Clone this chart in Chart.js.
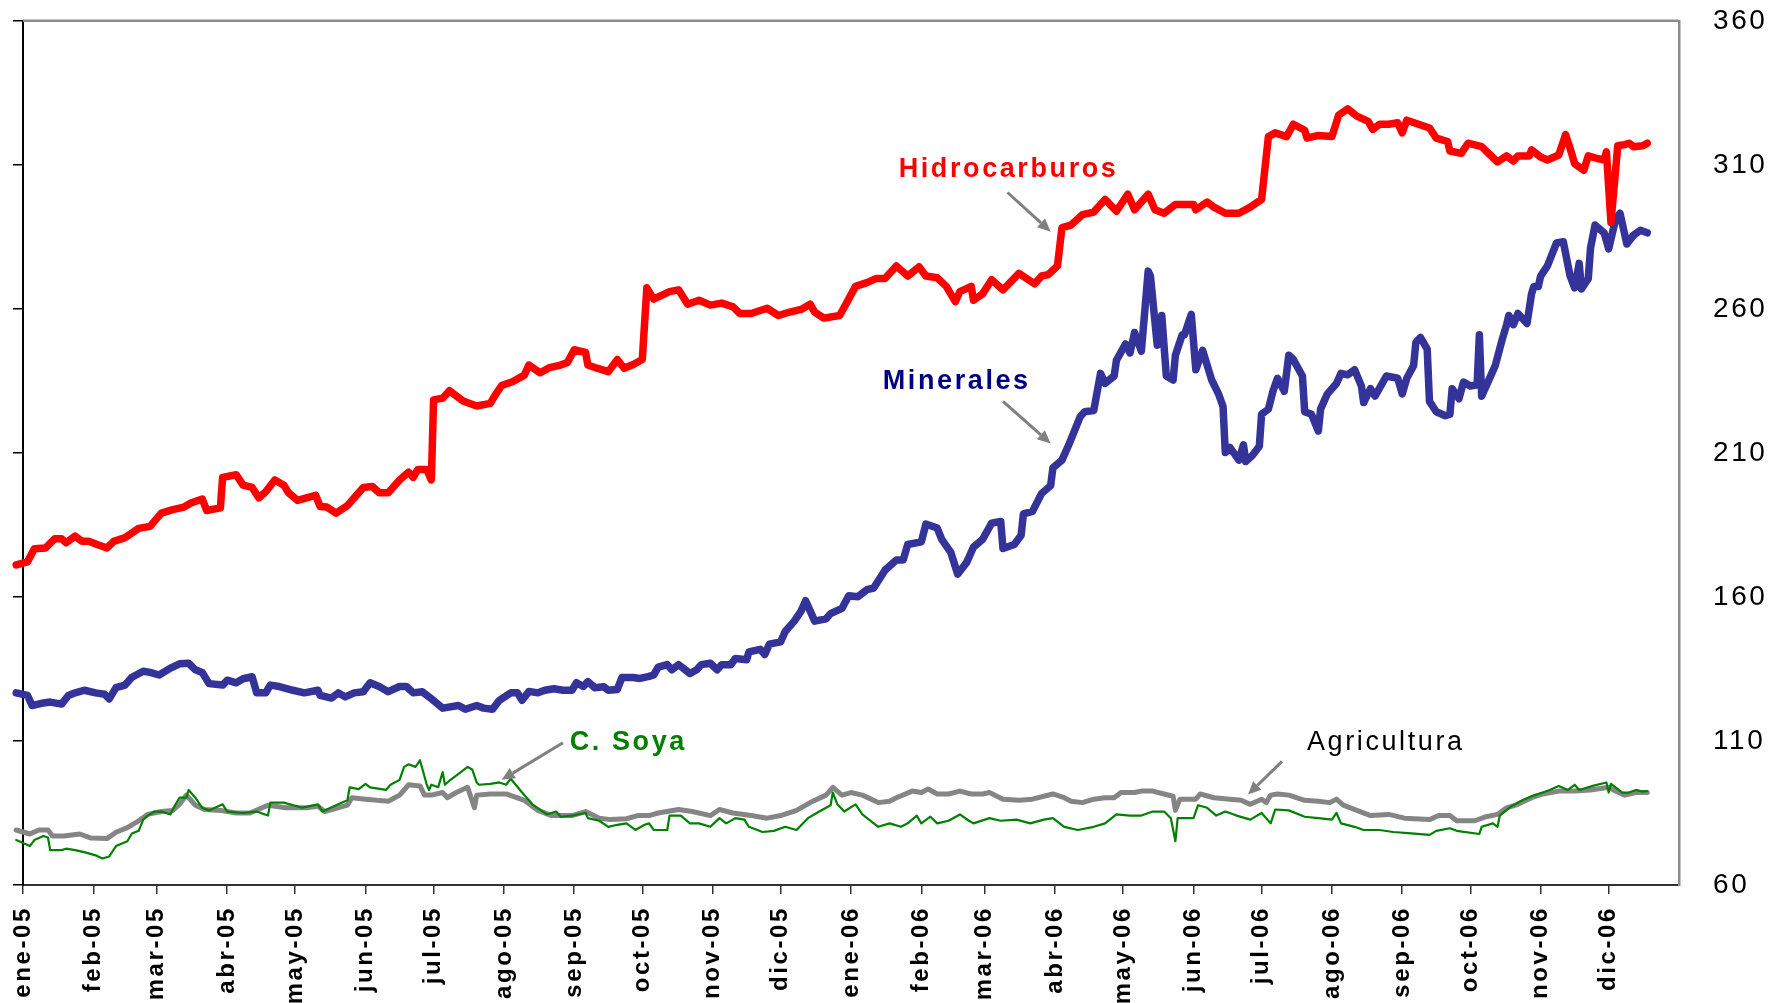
<!DOCTYPE html>
<html>
<head>
<meta charset="utf-8">
<script src="https://cdn.jsdelivr.net/npm/chart.js@4.4.0/dist/chart.umd.min.js"></script>
<style>
  html, body { margin: 0; padding: 0; background: #fff; }
  #chart { display: block; }
</style>
</head>
<body>
<canvas id="chart" width="1784" height="1003"></canvas>
<script>
// x values are days counted from 1 Jan 2005
const tickDays = [0, 31, 59, 90, 120, 151, 181, 212, 243, 273, 304, 334,
  365, 396, 424, 455, 485, 516, 546, 577, 608, 638, 669, 699];
const tickLabels = ['ene-05', 'feb-05', 'mar-05', 'abr-05', 'may-05', 'jun-05', 'jul-05', 'ago-05',
  'sep-05', 'oct-05', 'nov-05', 'dic-05', 'ene-06', 'feb-06', 'mar-06', 'abr-06', 'may-06', 'jun-06',
  'jul-06', 'ago-06', 'sep-06', 'oct-06', 'nov-06', 'dic-06'];

const hidroDays = [-3, 2, 5, 10, 14, 17, 19, 23, 26, 29, 33, 37, 40, 45, 51, 56, 61, 66, 71, 74, 79, 81, 87, 88,
  94, 97, 101, 104, 107, 111, 115, 117, 121, 125, 129, 131, 134, 138, 143, 147, 150, 154, 157, 161, 166, 170,
  172, 174, 178, 180, 181, 185, 188, 194, 200, 206, 208, 211, 216, 221, 223, 228, 232, 237, 240, 243, 248, 249,
  253, 258, 262, 265, 269, 273, 275, 278, 285, 289, 293, 298, 303, 308, 313, 316, 321, 328, 333, 338, 343, 347,
  349, 353, 360, 363, 367, 372, 376, 380, 385, 390, 395, 398, 403, 407, 411, 413, 418, 419, 423, 427, 432, 439,
  446, 449, 452, 456, 458, 462, 467, 472, 477, 482, 487, 490, 496, 499, 503, 508, 516, 517, 522, 525, 530, 536,
  541, 546, 549, 552, 557, 560, 565, 566, 571, 577, 580, 584, 588, 593, 595, 598, 602, 606, 608, 610, 620, 623,
  628, 629, 634, 637, 643, 646, 650, 654, 657, 659, 664, 665, 669, 672, 677, 680, 682, 684, 688, 690, 694, 697,
  698, 700, 703, 706, 708, 710, 714, 716];
const hidroVals = [171.1, 172.2, 176.7, 177, 180.2, 180.2, 178.8, 181.1, 179.3, 179.3, 178.1, 177, 179.3, 180.6,
  183.8, 184.5, 189.1, 190.3, 191.2, 192.6, 194, 190, 190.9, 201.5, 202.4, 198.8, 198, 194.4, 196.5, 200.6, 198.8,
  196.2, 193.5, 194.4, 195.3, 191.4, 191.2, 189.1, 191.7, 195.3, 198, 198.3, 196.2, 196.2, 200.6, 203.3, 201.5,
  204.2, 204.2, 200.6, 228.4, 229, 231.6, 228, 226.3, 227.2, 229.9, 233.4, 234.8, 237, 240.5, 237.8, 239.6, 240.5,
  241.4, 245.8, 244.9, 240.5, 239.4, 238.2, 242.4, 239.4, 240.7, 242.4, 267.3, 263.4, 266, 266.6, 261.6, 263,
  261.3, 262, 260.7, 258.4, 258.4, 260.2, 257.7, 258.9, 259.8, 261.6, 258.9, 256.8, 257.7, 262, 267.8, 269.1,
  270.5, 270.5, 274.9, 271.4, 274.6, 271.4, 270.8, 267.8, 262.5, 266, 267.8, 263, 265.2, 270.1, 266.6, 272.3,
  268.7, 271.4, 271.9, 274.9, 288.2, 289.1, 292.7, 293.6, 298, 293.9, 299.8, 294.4, 299.8, 294.4, 293.2, 296.2,
  296.2, 294.4, 297.1, 295.3, 293.2, 293.2, 295.3, 298, 319.8, 321.1, 319.8, 324.1, 322, 319.3, 320.2, 319.8,
  327.3, 329.4, 326.9, 325.1, 322.3, 324.1, 324.1, 324.6, 321.1, 325.5, 322.8, 319.3, 318.1, 314.8, 314, 317.5,
  316.3, 314, 311, 313.1, 311.3, 313.1, 313.1, 315.2, 312.7, 311.7, 313.4, 320.5, 315.7, 310.4, 308.1, 313.1,
  312.2, 311.7, 314.5, 290, 316.6, 317, 317.5, 316.3, 316.6, 317.5];

const mineDays = [-3, 2, 4, 9, 12, 17, 20, 23, 27, 32, 36, 38, 41, 45, 48, 53, 56, 60, 65, 69, 73, 76, 79, 82, 88,
  90, 94, 97, 101, 103, 107, 109, 113, 119, 124, 130, 131, 136, 139, 142, 146, 150, 153, 157, 161, 166, 169, 172,
  176, 179, 185, 192, 195, 200, 203, 207, 210, 215, 218, 220, 223, 227, 230, 234, 238, 242, 244, 247, 249, 252,
  256, 258, 262, 264, 269, 272, 276, 278, 280, 284, 286, 289, 294, 297, 299, 303, 306, 308, 312, 314, 319, 320,
  325, 327, 329, 334, 336, 340, 343, 345, 349, 354, 356, 361, 364, 368, 372, 375, 380, 385, 388, 390, 396, 398,
  403, 405, 409, 412, 416, 419, 423, 427, 431, 432, 437, 440, 441, 445, 449, 453, 454, 458, 461, 466, 468, 472,
  475, 477, 481, 482, 486, 488, 490, 493, 496, 497, 500, 502, 504, 507, 508, 511, 512, 515, 517, 520, 524, 527,
  529, 530, 532, 536, 538, 539, 542, 545, 546, 549, 551, 553, 556, 558, 560, 564, 565, 568, 571, 572, 575, 579,
  581, 584, 587, 590, 591, 594, 596, 601, 606, 608, 610, 613, 614, 616, 619, 620, 623, 627, 629, 630, 633, 635,
  638, 641, 642, 643, 646, 649, 652, 654, 655, 657, 659, 663, 665, 666, 668, 669, 672, 676, 679, 682, 684, 686,
  687, 690, 691, 693, 697, 699, 702, 704, 707, 710, 713, 716];
const mineVals = [126.7, 125.8, 122.3, 123.2, 123.5, 122.8, 125.8, 126.7, 127.6, 126.7, 126.2, 124.6, 128.5,
  129.4, 132.1, 134.2, 133.8, 132.9, 135.3, 136.8, 137, 134.7, 133.8, 129.9, 129.4, 131.1, 130.2, 131.6, 132.3,
  126.7, 126.7, 129.4, 128.9, 127.6, 126.7, 127.6, 125.8, 124.9, 126.7, 125.3, 126.7, 127.1, 130.2, 128.9, 127.1,
  128.9, 128.9, 126.7, 127.1, 125.3, 121.4, 122.3, 121, 122.3, 121.4, 121, 124.1, 126.7, 126.7, 124.1, 127.2,
  126.7, 127.6, 128.1, 127.6, 127.6, 130.2, 128.9, 130.6, 128.5, 128.8, 127.6, 127.9, 132, 132, 131.7, 132.4,
  132.9, 135.6, 136.5, 134.7, 136.5, 133.4, 134.7, 136.5, 137, 134.7, 136.5, 136.5, 138.6, 138.2, 140.9, 141.8,
  140, 143.6, 144.4, 148, 151.6, 155.1, 158.7, 151.6, 152.4, 154.2, 156, 160.4, 160.1, 162.5, 163.1, 169.3, 172.8,
  172.8, 178.2, 179.1, 185.3, 183.9, 180, 175.5, 167.9, 172, 177.3, 180, 185.6, 186.2, 176.8, 178.2, 181.4, 188.8,
  189.7, 195.9, 198.6, 204.8, 207.5, 212.8, 222.5, 224.3, 224.7, 237.6, 234.1, 236.7, 242.1, 247.8, 244.7, 251.8,
  245.3, 273.1, 271.4, 247.4, 257.7, 236.7, 235.3, 243.9, 251, 251, 258.1, 238.9, 245.6, 235.3, 230.5, 226.1,
  210.1, 211.9, 207.5, 212.8, 207, 209.2, 212.3, 223.4, 225.2, 231.4, 235.9, 231.4, 243.9, 242.4, 236.7, 224.3,
  223.4, 217.6, 225.2, 230.5, 234.1, 237.6, 237.1, 238.9, 233.2, 227.5, 232.3, 229.7, 236.7, 235.9, 230.5, 235.9,
  240.3, 248.3, 250.1, 246, 227.9, 224.3, 222.9, 223.4, 232.3, 228.8, 234.6, 233.2, 233.6, 251, 229.7, 235,
  240.3, 249.2, 254.5, 257.7, 254.5, 258.4, 254.9, 265.2, 267.8, 267.8, 271.4, 274.9, 282.9, 283.3, 271.4, 267.3,
  275.8, 266.9, 270.5, 281.1, 289.1, 286.4, 280.8, 290.9, 293.2, 282.5, 285.6, 287.3, 286.4];

const agriDays = [-3, 3, 7, 11, 13, 18, 25, 30, 37, 41, 46, 51, 55, 61, 66, 69, 72, 76, 80, 87, 94, 100, 108, 116,
  125, 130, 133, 143, 145, 151, 156, 161, 166, 170, 175, 177, 180, 185, 187, 191, 196, 199, 200, 206, 213, 221,
  227, 233, 242, 248, 254, 259, 266, 271, 276, 280, 289, 295, 303, 307, 313, 321, 328, 334, 341, 347, 354, 357,
  361, 365, 370, 377, 382, 385, 392, 396, 399, 403, 408, 413, 418, 423, 426, 432, 439, 445, 450, 454, 459, 462,
  467, 472, 477, 481, 484, 490, 493, 498, 503, 507, 508, 510, 517, 519, 525, 532, 537, 541, 546, 548, 550, 553,
  558, 565, 571, 576, 579, 582, 588, 594, 602, 609, 620, 624, 629, 632, 640, 645, 650, 654, 659, 665, 670, 677,
  684, 691, 699, 702, 706, 711, 716];
const agriVals = [79.1, 77.7, 79.1, 79.1, 77, 77, 77.7, 76.3, 76.1, 78.3, 79.9, 82.3, 84.5, 85.5, 85.9, 88, 91.2,
  87.7, 86.2, 85.9, 85, 85, 87.7, 86.8, 86.8, 87.3, 85.5, 87.7, 90.3, 89.8, 89.4, 89.1, 91.2, 94.8, 94.4, 91.2,
  91.2, 92.1, 90.3, 92.1, 93.9, 86.8, 91.2, 91.6, 91.6, 89.4, 85.9, 84.1, 84.1, 85.5, 83.2, 82.7, 83, 84.1, 84.1,
  85, 86.2, 85.5, 84.1, 86.2, 85, 84.1, 83.2, 84.1, 85.9, 88.6, 91.2, 93.9, 91.2, 92.1, 91.2, 88.6, 89.1, 90.3,
  92.6, 92.1, 93.3, 91.6, 91.6, 92.6, 91.6, 91.6, 92.1, 89.8, 89.4, 89.8, 90.8, 91.6, 90.3, 89.1, 88.6, 89.8,
  90.3, 90.3, 92.1, 92.1, 92.6, 92.6, 91.6, 90.8, 85.9, 89.8, 89.8, 91.6, 90.3, 89.8, 89.4, 88, 89.8, 88.6, 91.2,
  91.6, 91.2, 89.4, 89.1, 88.6, 89.8, 87.7, 85.9, 84.1, 84.5, 83.2, 82.7, 84.1, 84.1, 82.3, 82.3, 83.7, 84.5,
  86.8, 88, 90.3, 91.6, 92.6, 92.6, 93, 93.9, 92.6, 91.2, 92.1, 92.1];

const soyaDays = [-3, 3, 5, 9, 11, 12, 17, 19, 23, 27, 32, 35, 38, 41, 46, 48, 51, 53, 55, 58, 61, 65, 67, 69, 72,
  73, 76, 79, 82, 88, 90, 97, 103, 108, 109, 115, 123, 130, 132, 138, 143, 144, 148, 151, 153, 160, 162, 166, 168,
  170, 173, 175, 178, 179, 180, 183, 185, 186, 188, 193, 196, 198, 200, 201, 206, 210, 213, 215, 220, 225, 231,
  235, 237, 242, 248, 249, 254, 258, 262, 266, 270, 274, 276, 278, 284, 285, 290, 294, 298, 303, 307, 310, 314,
  318, 320, 326, 331, 336, 341, 346, 351, 356, 357, 359, 362, 367, 370, 377, 382, 387, 390, 394, 396, 400, 403,
  408, 413, 417, 419, 426, 431, 438, 444, 450, 454, 459, 465, 472, 477, 482, 488, 493, 498, 503, 506, 508, 509,
  516, 518, 522, 526, 530, 535, 541, 546, 550, 552, 558, 565, 571, 577, 579, 581, 587, 591, 598, 604, 612, 620,
  623, 629, 632, 642, 643, 648, 650, 651, 656, 661, 665, 670, 673, 677, 681, 684, 686, 692, 698, 699, 700, 705,
  708, 711, 714, 716];
const soyaVals = [75.6, 73.5, 75.6, 77, 76.5, 72.1, 72.1, 72.6, 72.1, 71.4, 70.3, 69.2, 69.9, 73.5, 75.2, 77.9,
  78.8, 82.7, 84.1, 85.5, 85.5, 84.5, 87.7, 90.3, 90.3, 93, 90.3, 86.8, 85.9, 88, 85.5, 85, 85.5, 84.1, 88.6,
  88.6, 86.8, 88, 85.5, 87.7, 89.4, 93.9, 93.3, 95.1, 93.9, 93, 94.8, 96.5, 101, 101.9, 101, 103.3, 94.8, 93,
  94.8, 93.9, 99.2, 94.8, 96.2, 99.2, 101, 100.1, 95.6, 94.8, 95.1, 95.6, 94.8, 96.9, 92.1, 87.7, 84.5, 85.5,
  83.7, 84.1, 85, 83.2, 82.3, 80.2, 80.9, 81.4, 79.1, 80.9, 81.4, 79.1, 79.1, 84.1, 84.1, 81.4, 81.4, 80.2, 83.2,
  81.4, 83.2, 82.7, 80.2, 78.4, 78.8, 80.2, 79.1, 83.2, 85.5, 87.7, 92.1, 88, 85.5, 88, 84.5, 80.2, 81.4, 80.2,
  81.4, 84.1, 81.4, 83.7, 81.4, 82.3, 84.5, 82.3, 81.4, 83.2, 82.3, 82.7, 81.4, 82.7, 83.2, 80.2, 79.1, 80.2,
  81.4, 84.5, 84.1, 84.1, 85.5, 85.5, 83.2, 75.2, 83.2, 83.2, 87.7, 86.8, 84.1, 85.5, 84.1, 82.7, 85, 81.4, 86.2,
  85.9, 83.7, 83.2, 82.7, 85, 81.4, 80.2, 79.1, 79.1, 78.4, 77.9, 77.4, 78.8, 79.7, 78.8, 77.7, 80.2, 81.4, 80.2,
  84.1, 87.3, 89.4, 90.8, 92.1, 93, 94.4, 93, 94.8, 93, 94.4, 95.6, 92.1, 95.1, 92.1, 92.1, 93, 92.4, 92.6];

// annotation labels, anchored in data units [day, value]
const notes = [
  { text: 'Hidrocarburos', color: '#ff0000', weight: 'bold', at: [386, 308.4], from: [434, 300.4], to: [453, 286.8] },
  { text: 'Minerales', color: '#000080', weight: 'bold', at: [379, 234.6], from: [432, 227.9], to: [453, 213.3] },
  { text: 'C. Soya', color: '#008000', weight: 'bold', at: [241, 109.3], from: [238, 109.4], to: [211, 96.5] },
  { text: 'Agricultura', color: '#000000', weight: 'normal', at: [566, 109.5], from: [555, 102.9], to: [540, 91.4] }
];

const FONT = '"Liberation Sans", Arial, sans-serif';
const pts = (days, vals) => days.map((d, i) => ({ x: d, y: vals[i] }));

const framePlugin = {
  id: 'frame',
  beforeDraw(chart) {
    chart.ctx.letterSpacing = '2.6px';
  },
  beforeDatasetsDraw(chart) {
    const { ctx, chartArea } = chart;
    ctx.save();
    ctx.strokeStyle = '#8c8c8c';
    ctx.lineWidth = 2.5;
    ctx.beginPath();
    ctx.moveTo(chartArea.left, chartArea.top);
    ctx.lineTo(chartArea.right, chartArea.top);
    ctx.stroke();
    ctx.restore();
  },
  afterDatasetsDraw(chart) {
    const { ctx, scales } = chart;
    const px = p => [scales.x.getPixelForValue(p[0]), scales.y.getPixelForValue(p[1])];
    ctx.save();
    ctx.letterSpacing = '2.6px';
    notes.forEach(n => {
      const [tx, ty] = px(n.at);
      ctx.font = n.weight + ' 27px ' + FONT;
      ctx.fillStyle = n.color;
      ctx.textAlign = 'left';
      ctx.textBaseline = 'middle';
      ctx.fillText(n.text, tx, ty);

      const [x1, y1] = px(n.from);
      const [x2, y2] = px(n.to);
      const ang = Math.atan2(y2 - y1, x2 - x1);
      const hl = 13, hw = 6;
      ctx.strokeStyle = '#808080';
      ctx.fillStyle = '#808080';
      ctx.lineWidth = 3;
      ctx.beginPath();
      ctx.moveTo(x1, y1);
      ctx.lineTo(x2 - hl * Math.cos(ang), y2 - hl * Math.sin(ang));
      ctx.stroke();
      ctx.beginPath();
      ctx.moveTo(x2, y2);
      ctx.lineTo(x2 - hl * Math.cos(ang) + hw * Math.sin(ang), y2 - hl * Math.sin(ang) - hw * Math.cos(ang));
      ctx.lineTo(x2 - hl * Math.cos(ang) - hw * Math.sin(ang), y2 - hl * Math.sin(ang) + hw * Math.cos(ang));
      ctx.closePath();
      ctx.fill();
    });
    ctx.restore();
  }
};

const lineSet = (label, data, color, width, order) => ({
  label, data, order,
  borderColor: color,
  borderWidth: width,
  pointRadius: 0,
  tension: 0,
  fill: false,
  clip: false,
  borderJoinStyle: 'round',
  borderCapStyle: 'round'
});

new Chart(document.getElementById('chart'), {
  type: 'line',
  data: {
    datasets: [
      lineSet('Hidrocarburos', pts(hidroDays, hidroVals), '#ff0000', 7.5, 1),
      lineSet('Minerales', pts(mineDays, mineVals), '#333399', 7.5, 2),
      lineSet('C. Soya', pts(soyaDays, soyaVals), '#008000', 2.2, 3),
      lineSet('Agricultura', pts(agriDays, agriVals), '#858585', 5, 4)
    ]
  },
  options: {
    responsive: false,
    animation: false,
    events: [],
    layout: { padding: { top: 0, left: 0, right: 0, bottom: 0 } },
    plugins: { legend: { display: false }, tooltip: { enabled: false } },
    scales: {
      x: {
        type: 'linear',
        min: 0,
        max: 730,
        afterBuildTicks: scale => { scale.ticks = tickDays.map(v => ({ value: v })); },
        afterFit: scale => { scale.height = 118; },
        grid: { drawOnChartArea: false, drawTicks: true, tickLength: 9, color: '#333333', lineWidth: 1.5 },
        border: { display: true, color: '#333333', width: 2 },
        ticks: {
          autoSkip: false,
          maxRotation: 90,
          minRotation: 90,
          padding: 12,
          color: '#000000',
          font: { family: FONT, size: 24, weight: 'bold' },
          callback: (v, i) => tickLabels[i]
        }
      },
      y: {
        position: 'right',
        min: 60,
        max: 360,
        afterFit: scale => { scale.width = 105; },
        grid: { drawOnChartArea: false, drawTicks: true, tickLength: 30, tickColor: 'rgba(0,0,0,0)' },
        border: { display: true, color: '#8c8c8c', width: 2.5 },
        ticks: {
          stepSize: 50,
          padding: 4,
          color: '#000000',
          font: { family: FONT, size: 28, lineHeight: 1.2 }
        }
      },
      yl: {
        position: 'left',
        min: 60,
        max: 360,
        afterFit: scale => { scale.width = 23; },
        grid: { drawOnChartArea: false, drawTicks: true, tickLength: 10, color: '#000000', lineWidth: 1.5 },
        border: { display: true, color: '#000000', width: 2 },
        ticks: { stepSize: 50, display: false }
      }
    }
  },
  plugins: [framePlugin]
});
</script>
</body>
</html>
